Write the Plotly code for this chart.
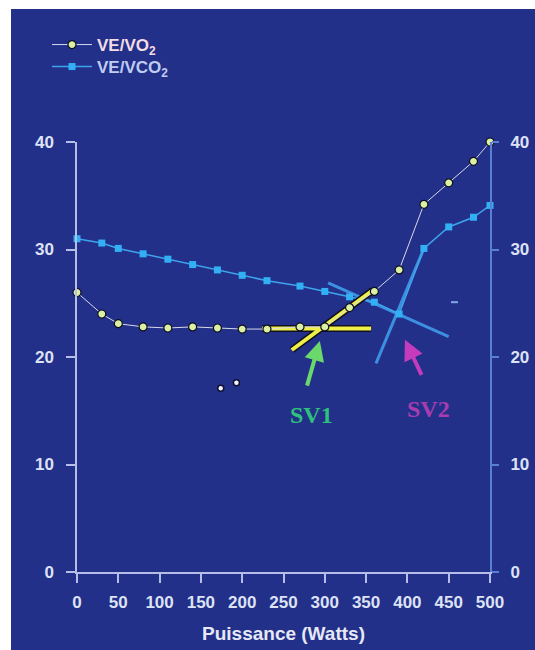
import plotly.graph_objects as go

# ---- data ----
watts = [0, 30, 50, 80, 110, 140, 170, 200, 230, 270, 300, 330, 360, 390, 420, 450, 480, 500]
ve_vo2 = [26.0, 24.0, 23.1, 22.8, 22.7, 22.8, 22.7, 22.6, 22.6, 22.8, 22.8, 24.6, 26.1, 28.1, 34.2, 36.2, 38.2, 40.0]
ve_vco2 = [31.0, 30.6, 30.1, 29.6, 29.1, 28.6, 28.1, 27.6, 27.1, 26.6, 26.1, 25.6, 25.1, 24.0, 30.1, 32.1, 33.0, 34.1]

stray_x = [174, 193]
stray_y = [17.1, 17.6]
speck_x = [457]
speck_y = [25.1]

# threshold construction lines (data coordinates)
sv1_flat_x = [224, 356]
sv1_flat_y = [22.65, 22.65]
sv1_slope_x = [260, 358]
sv1_slope_y = [20.65, 26.2]
sv2_flat_x = [304, 450]
sv2_flat_y = [26.9, 21.9]
sv2_steep_x = [362, 420]
sv2_steep_y = [19.4, 30.1]

# arrows: (tail, head)
sv1_arrow = dict(tail=(278, 17.2), head=(294, 21.5))
sv2_arrow = dict(tail=(418, 18.2), head=(397, 21.6))
sv1_label = (284, 14.6)
sv2_label = (425, 15.2)

x_ticks = [0, 50, 100, 150, 200, 250, 300, 350, 400, 450, 500]
y_ticks = [0, 10, 20, 30, 40]

BG = "#22308a"
FONT = "Liberation Sans, Arial, sans-serif"
LAV = "#b4bee8"
RBLUE = "#5a80d6"
TXT = "#dde2f4"

W, H = 535, 650
L, R, T, B = 77, 45, 142, 78
PW, PH = W - L - R, H - T - B

fig = go.Figure()

# SV2 blue lines
fig.add_trace(go.Scatter(x=sv2_flat_x, y=sv2_flat_y, mode="lines",
                         line=dict(color="#3d8fe0", width=3), showlegend=False, hoverinfo="skip"))
fig.add_trace(go.Scatter(x=sv2_steep_x, y=sv2_steep_y, mode="lines",
                         line=dict(color="#3d8fe0", width=3), showlegend=False, hoverinfo="skip"))

# VE/VCO2
fig.add_trace(go.Scatter(
    x=watts, y=ve_vco2, mode="lines+markers",
    name="<b><span style='color:#c0ccf2'>VE/VCO<sub>2</sub></span></b>",
    line=dict(color="#3fa4ec", width=1.5),
    marker=dict(symbol="square", size=7, color="#33b0f4", line=dict(width=0)),
    cliponaxis=False, legend="legend2"))

# SV1 yellow lines with dark outline
for xs, ys in [(sv1_flat_x, sv1_flat_y), (sv1_slope_x, sv1_slope_y)]:
    fig.add_trace(go.Scatter(x=xs, y=ys, mode="lines",
                             line=dict(color="#101020", width=7), showlegend=False, hoverinfo="skip"))
for xs, ys in [(sv1_flat_x, sv1_flat_y), (sv1_slope_x, sv1_slope_y)]:
    fig.add_trace(go.Scatter(x=xs, y=ys, mode="lines",
                             line=dict(color="#eef048", width=4), showlegend=False, hoverinfo="skip"))

# VE/VO2
fig.add_trace(go.Scatter(
    x=watts, y=ve_vo2, mode="lines+markers",
    name="<b><span style='color:#f4dce4'>VE/VO<sub>2</sub></span></b>",
    line=dict(color="#d8d8e8", width=1),
    marker=dict(symbol="circle", size=8, color="#dcf0a4", line=dict(color="#0c0c20", width=1.2)),
    cliponaxis=False, legend="legend"))

# stray white dots and speck
fig.add_trace(go.Scatter(x=stray_x, y=stray_y, mode="markers",
                         marker=dict(size=6, color="#f4f4ff", line=dict(color="#101030", width=1.5)),
                         showlegend=False, hoverinfo="skip"))
fig.add_trace(go.Scatter(x=speck_x, y=speck_y, mode="markers",
                         marker=dict(symbol="line-ew", size=5, line=dict(color="#7fa8e8", width=2)),
                         showlegend=False, hoverinfo="skip"))

# right axis dummy trace
fig.add_trace(go.Scatter(x=[0], y=[0], yaxis="y2", mode="markers",
                         marker=dict(opacity=0), showlegend=False, hoverinfo="skip"))

ann = []
for arr, col in [(sv1_arrow, "#6ad86a"), (sv2_arrow, "#c43cbc")]:
    ann.append(dict(x=arr["head"][0], y=arr["head"][1], ax=arr["tail"][0], ay=arr["tail"][1],
                    xref="x", yref="y", axref="x", ayref="y", showarrow=True,
                    arrowhead=2, arrowsize=1, arrowwidth=4, arrowcolor=col, text=""))
ann.append(dict(x=sv1_label[0], y=sv1_label[1], xref="x", yref="y", showarrow=False,
                text="<b>SV1</b>", font=dict(family="Liberation Serif, Times New Roman, serif",
                                              size=24, color="#2ec07c")))
ann.append(dict(x=sv2_label[0], y=sv2_label[1], xref="x", yref="y", showarrow=False,
                text="<b>SV2</b>", font=dict(family="Liberation Serif, Times New Roman, serif",
                                              size=24, color="#a83cb0")))

# white strips: left 11 px and top 9 px of the page
shapes = [
    dict(type="rect", xref="paper", yref="paper", x0=-L / PW - 0.05, x1=(11 - L) / PW,
         y0=-1, y1=2, fillcolor="white", line=dict(width=0), layer="below"),
    dict(type="rect", xref="paper", yref="paper", x0=-1, x1=2, y0=(PH + T - 9) / PH, y1=2,
         fillcolor="white", line=dict(width=0), layer="below"),
]

leg_common = dict(xanchor="left", yanchor="middle", bgcolor="rgba(0,0,0,0)",
                  font=dict(family=FONT, size=17, color=TXT), itemwidth=40)

fig.update_layout(
    width=W, height=H,
    margin=dict(l=L, r=R, t=T, b=B, autoexpand=False),
    paper_bgcolor=BG, plot_bgcolor=BG,
    font=dict(family=FONT, size=17, color=TXT),
    showlegend=True,
    legend=dict(x=(47 - L) / PW, y=(PH + T - 45) / PH, **leg_common),
    legend2=dict(x=(47 - L) / PW, y=(PH + T - 67) / PH, **leg_common),
    xaxis=dict(range=[0, 500], tickvals=x_ticks, ticks="outside", ticklen=9, tickwidth=1.5,
               tickcolor=LAV, showline=True, linecolor=LAV, linewidth=1.5, showgrid=False,
               zeroline=False, ticklabelstandoff=5, automargin=False,
               tickfont=dict(size=17, color=TXT, weight="bold"),
               title=dict(text="<b>Puissance (Watts)</b>", font=dict(size=19, color="#e6e8f4"),
                          standoff=16)),
    yaxis=dict(range=[0, 40], tickvals=y_ticks, ticks="outside", ticklen=9, tickwidth=1.5,
               tickcolor=LAV, showline=True, linecolor=LAV, linewidth=1.5, showgrid=False,
               zeroline=False, ticklabelstandoff=9, automargin=False,
               tickfont=dict(size=17, color=TXT, weight="bold")),
    yaxis2=dict(range=[0, 40], tickvals=y_ticks, overlaying="y", side="right", ticks="outside",
                ticklen=7, tickwidth=1.5, tickcolor=RBLUE, showline=True, linecolor=RBLUE,
                linewidth=2, showgrid=False, zeroline=False, ticklabelstandoff=8, automargin=False,
                tickfont=dict(size=17, color=TXT, weight="bold")),
    annotations=ann,
    shapes=shapes,
)

fig.write_html("out.html", config={"displayModeBar": False},
               post_script="document.body.style.margin='0';")
